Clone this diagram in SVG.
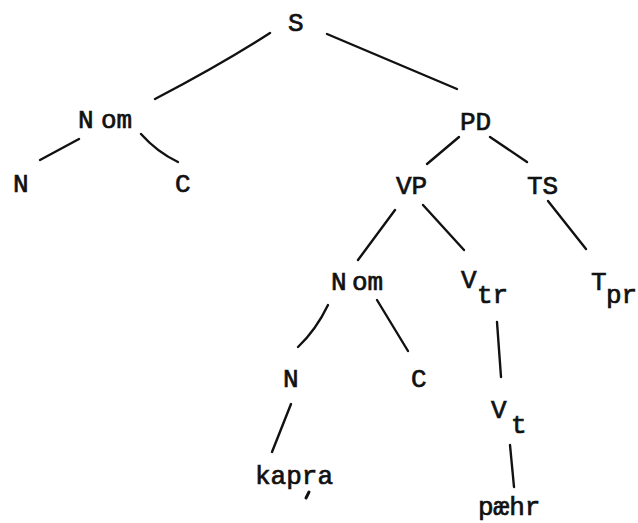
<svg xmlns="http://www.w3.org/2000/svg" width="638" height="523" viewBox="0 0 638 523">
  <style>
    .lbl { font-family: "Liberation Mono", "Courier New", monospace; font-size: 26px; fill: #111; stroke: #111; stroke-width: 0.7; }
    .edge { fill: none; stroke: #111; stroke-width: 2.4; stroke-linecap: round; stroke-linejoin: round; }
  </style>
  <rect width="638" height="523" fill="#fff"/>

  <!-- branches of the tree -->
  <g id="connectors">
    <path class="edge" d="M270,33 Q222,64 155,99"/>
    <path class="edge" d="M327,34 Q398,64 457,89"/>
    <path class="edge" d="M79,139 L40,160"/>
    <path class="edge" d="M141,134 Q157,152 178,162"/>
    <path class="edge" d="M459,137 L427,164"/>
    <path class="edge" d="M490,137 L527,162"/>
    <path class="edge" d="M395,210 L358,260"/>
    <path class="edge" d="M423,205 L464,250"/>
    <path class="edge" d="M548,201 L586,249"/>
    <path class="edge" d="M328,305 Q316,330 298,347"/>
    <path class="edge" d="M377,300 L408,351"/>
    <path class="edge" d="M497,322 L501,377"/>
    <path class="edge" d="M291,404 L272,452"/>
    <path class="edge" d="M510,445 L514,487"/>
  </g>

  <g id="n-S"><text class="lbl" x="288" y="31">S</text></g>
  <g id="n-Nom1"><text class="lbl" x="78" y="128">N<tspan x="101">om</tspan></text></g>
  <g id="n-N1"><text class="lbl" x="13" y="192">N</text></g>
  <g id="n-C1"><text class="lbl" x="175" y="192">C</text></g>
  <g id="n-PD"><text class="lbl" x="460" y="130">PD</text></g>
  <g id="n-VP"><text class="lbl" x="396" y="194">VP</text></g>
  <g id="n-TS"><text class="lbl" x="527" y="194">TS</text></g>
  <g id="n-Nom2"><text class="lbl" x="331" y="290">N<tspan x="352">om</tspan></text></g>
  <g id="n-Vtr"><text class="lbl" x="461" y="288">V<tspan x="477" y="303">tr</tspan></text></g>
  <g id="n-Tpr"><text class="lbl" x="591" y="290">T<tspan x="606" y="303">pr</tspan></text></g>
  <g id="n-N2"><text class="lbl" x="283" y="387">N</text></g>
  <g id="n-C2"><text class="lbl" x="411" y="387">C</text></g>
  <g id="n-Vt"><text class="lbl" x="491" y="418">V<tspan x="511" y="433">t</tspan></text></g>
  <g id="n-kapra"><text class="lbl" x="255" y="484">kapra</text><path d="M309,492 L306,498" stroke="#111" stroke-width="3" stroke-linecap="round"/></g>
  <g id="n-paehr"><text class="lbl" x="478" y="515">pæhr</text></g>
</svg>
